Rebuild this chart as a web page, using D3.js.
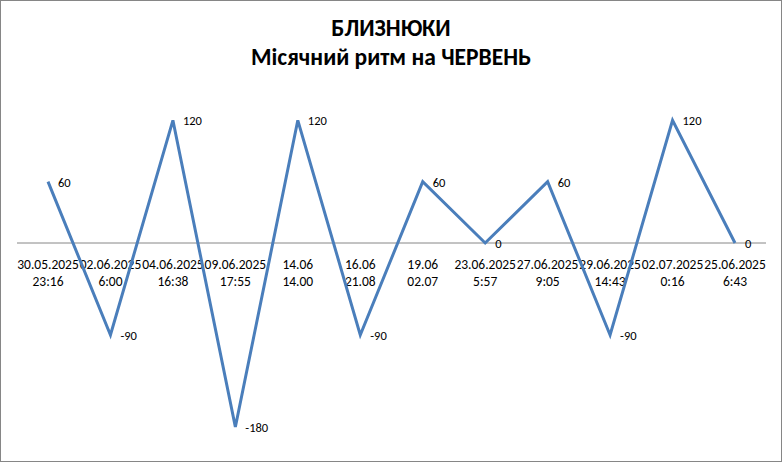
<!DOCTYPE html>
<html>
<head>
<meta charset="utf-8">
<script src="https://cdn.jsdelivr.net/npm/d3@7"></script>
<style>
  body { margin: 0; background: #fff; }
  svg { display: block; font-family: Carlito, "Open Sans", "Liberation Sans", sans-serif; }
</style>
</head>
<body>
<svg width="783" height="463"></svg>
<script>
// дані
const dates = ["30.05.2025", "02.06.2025", "04.06.2025", "09.06.2025", "14.06", "16.06",
  "19.06", "23.06.2025", "27.06.2025", "29.06.2025", "02.07.2025", "25.06.2025"];
const times = ["23:16", "6:00", "16:38", "17:55", "14.00", "21.08",
  "02.07", "5:57", "9:05", "14:43", "0:16", "6:43"];
const values = [60, -90, 120, -180, 120, -90, 60, 0, 60, -90, 120, 0];
const titleLines = ["БЛИЗНЮКИ", "Місячний ритм на ЧЕРВЕНЬ"];

const svg = d3.select("svg");

// рамка
svg.append("rect")
  .attr("x", 0.5).attr("y", 0.5)
  .attr("width", 781).attr("height", 461)
  .attr("fill", "#fff").attr("stroke", "#868686");

// заголовок
svg.selectAll(".title")
  .data(titleLines)
  .enter()
  .append("text")
  .attr("class", "title")
  .attr("x", 391)
  .attr("y", (d, i) => 36 + i * 29)
  .attr("text-anchor", "middle")
  .attr("font-size", 23.5)
  .attr("font-weight", "bold")
  .text((d) => d);

const x = d3.scalePoint().domain(d3.range(values.length)).range([48, 735]);
const y = d3.scaleLinear().domain([0, 120]).range([243, 120.3]);

// вісь категорій
svg.append("line")
  .attr("x1", 17).attr("x2", 766)
  .attr("y1", y(0)).attr("y2", y(0))
  .attr("stroke", "#868686");

const cat = svg.append("g")
  .selectAll("text")
  .data(d3.range(values.length))
  .enter()
  .append("text")
  .attr("text-anchor", "middle")
  .attr("font-size", 13.5)
  .attr("fill", "#000");
cat.append("tspan").attr("x", (i) => x(i)).attr("y", 269).text((i) => dates[i]);
cat.append("tspan").attr("x", (i) => x(i)).attr("y", 286).text((i) => times[i]);

// лінія
const line = d3.line().x((d, i) => x(i)).y((d) => y(d));
svg.append("path")
  .datum(values)
  .attr("d", line)
  .attr("fill", "none")
  .attr("stroke", "#4a7ebb")
  .attr("stroke-width", 3)
  .attr("stroke-linejoin", "miter");

// підписи значень
svg.append("g")
  .selectAll("text")
  .data(values)
  .enter()
  .append("text")
  .attr("x", (d, i) => x(i) + 10)
  .attr("y", (d) => y(d) + 5)
  .attr("font-size", 12.5)
  .text((d) => d);
</script>
</body>
</html>
